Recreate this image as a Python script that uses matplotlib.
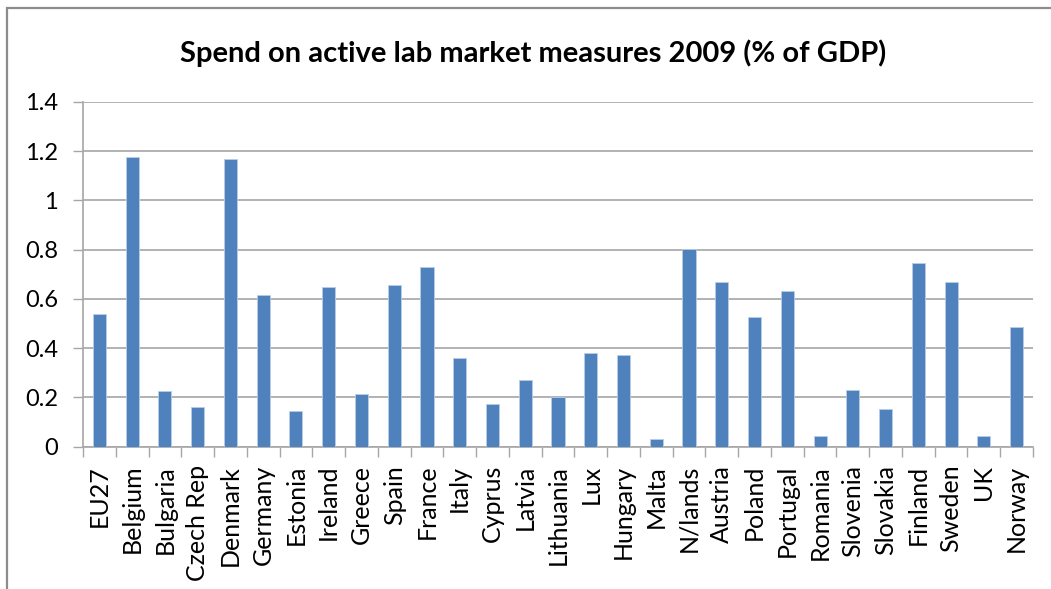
import numpy as np
import matplotlib
matplotlib.use('Agg')
import matplotlib.pyplot as plt
from matplotlib.patches import Rectangle

countries = ['EU27', 'Belgium', 'Bulgaria', 'Czech Rep', 'Denmark', 'Germany',
             'Estonia', 'Ireland', 'Greece', 'Spain', 'France', 'Italy',
             'Cyprus', 'Latvia', 'Lithuania', 'Lux', 'Hungary', 'Malta',
             'N/lands', 'Austria', 'Poland', 'Portugal', 'Romania', 'Slovenia',
             'Slovakia', 'Finland', 'Sweden', 'UK', 'Norway']
spend = [0.537, 1.178, 0.225, 0.162, 1.167, 0.615,
         0.146, 0.647, 0.215, 0.658, 0.730, 0.360,
         0.173, 0.272, 0.203, 0.380, 0.371, 0.032,
         0.801, 0.667, 0.527, 0.631, 0.042, 0.230,
         0.152, 0.745, 0.667, 0.042, 0.485]
yticks = [0, 0.2, 0.4, 0.6, 0.8, 1, 1.2, 1.4]
yticklabels = ['0', '0.2', '0.4', '0.6', '0.8', '1', '1.2', '1.4']

plt.rcParams['font.family'] = ['Lato', 'DejaVu Sans']

fig = plt.figure(figsize=(10.51, 5.89), dpi=100)
# outer chart border
fig.patches.append(Rectangle((7/1051, -0.1), 1.2, 1 - 8/589 + 0.1,
                             transform=fig.transFigure, fill=False,
                             edgecolor='#8c8c8c', linewidth=1.6))

ax = fig.add_axes([83/1051, 1 - 446.7/589, 950/1051, (446.7 - 102)/589])
x = np.arange(len(countries))
ax.bar(x, spend, width=0.4, color='#4F81BD', edgecolor='#b9cde5',
       linewidth=0.6, zorder=3)

ax.set_xlim(-0.5, len(countries) - 0.5)
ax.set_ylim(0, 1.4)
ax.set_yticks(yticks)
ax.set_yticklabels(yticklabels, fontsize=17)
ax.yaxis.grid(True, color='#a6a6a6', linewidth=1.2, zorder=0)
ax.tick_params(axis='y', length=7, width=1, color='#a6a6a6', pad=11)

ax.set_xticks(x)
ax.set_xticklabels(countries, rotation=90, fontsize=18)
ax.set_xticks(np.arange(len(countries) + 1) - 0.5, minor=True)
ax.tick_params(axis='x', which='major', length=0, pad=13)
ax.tick_params(axis='x', which='minor', length=7, width=1, color='#a6a6a6')

for s in ['top', 'right']:
    ax.spines[s].set_visible(False)
for s in ['left', 'bottom']:
    ax.spines[s].set_color('#a6a6a6')
    ax.spines[s].set_linewidth(1.2)

fig.text(533/1051, 1 - 53/589, 'Spend on active lab market measures 2009 (% of GDP)',
         ha='center', va='center', fontsize=21, fontweight='bold')

fig.savefig('out.png', dpi=100)
